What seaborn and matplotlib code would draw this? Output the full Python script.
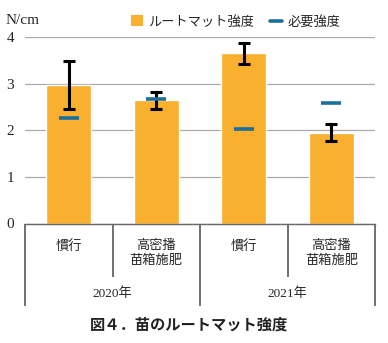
import matplotlib
matplotlib.use("Agg")
import matplotlib.pyplot as plt
import seaborn as sns
import pandas as pd
from matplotlib.lines import Line2D
from matplotlib.patches import Patch

sns.set_theme(style="white")
plt.rcParams['font.family'] = ['Liberation Serif', 'Noto Sans CJK JP']

categories = ["慣行", "高密播\n苗箱施肥", "慣行", "高密播\n苗箱施肥"]
years = ["2020年", "2021年"]
strength = [2.97, 2.64, 3.65, 1.95]
strength_err = [0.52, 0.18, 0.22, 0.19]
required = [2.26, 2.66, 2.03, 2.59]

orange = "#F8B02E"
blue = "#1C6E9E"

df = pd.DataFrame({"pos": [0, 1, 2, 3], "strength": strength,
                   "err": strength_err, "required": required})

fig = plt.figure(figsize=(3.88, 3.43), dpi=100)
ax = fig.add_axes([25/388, 1-223.5/343, 350/388, (223.5-37)/343])

sns.barplot(data=df, x="pos", y="strength", color=orange, saturation=1,
            width=0.51, errorbar=None, ax=ax, native_scale=False)
ax.errorbar(df["pos"], df["strength"], yerr=df["err"], fmt="none",
            ecolor="black", elinewidth=2.2, capsize=4, capthick=2.2, zorder=4)
ax.plot(df["pos"], df["required"], linestyle="none", marker="_",
        markersize=14.5, markeredgewidth=2.6, color=blue, zorder=5)

ax.set_xlim(-0.5, 3.5)
ax.set_ylim(0, 4)
ax.set_yticks([0, 1, 2, 3, 4])
ax.set_yticklabels(["0", "1", "2", "3", "4"], fontsize=11)
ax.yaxis.grid(True, color="#AAAAAA", linewidth=0.9)
ax.set_axisbelow(True)
for s in ["left", "right", "top"]:
    ax.spines[s].set_visible(False)
ax.spines["bottom"].set_color("#666666")
ax.spines["bottom"].set_linewidth(1.0)
ax.tick_params(axis="y", length=0, pad=8)
ax.set_xticks([])
ax.set_xlabel("")
ax.set_ylabel("")

# category labels
for i, c in enumerate(categories):
    ax.text(i, -0.36, c, ha="center", va="top", fontsize=9.5,
            linespacing=1.2, transform=ax.transData)
for j, yname in enumerate(years):
    ax.text(0.5 + 2*j, -1.5, yname, ha="center", va="center", fontsize=9.5)

# separators below the axis
for xs, ybot in [(-0.5, -1.77), (0.5, -1.15), (1.5, -1.77), (2.5, -1.15), (3.5, -1.77)]:
    ax.plot([xs, xs], [0, ybot], color="#666666", linewidth=1.3,
            clip_on=False, solid_capstyle="butt")

fig.text(6/388, 1-20/343, "N/cm", fontsize=11, ha="left", va="center")

handles = [Patch(facecolor=orange, edgecolor="none"),
           Line2D([0], [0], color=blue, linewidth=2.6)]
fig.legend(handles, ["ルートマット強度", "必要強度"], loc="center",
           bbox_to_anchor=(236/388, 1-22/343), ncol=2, frameon=False,
           fontsize=9.5, handlelength=0.9, handleheight=0.9,
           handletextpad=0.4, columnspacing=1.2)

fig.text(189/388, 1-325/343, "図４．苗のルートマット強度", ha="center", va="center",
         fontsize=11, fontweight="bold", family=["Noto Sans CJK JP"], color="#222222")

fig.savefig("out.png", dpi=100)
